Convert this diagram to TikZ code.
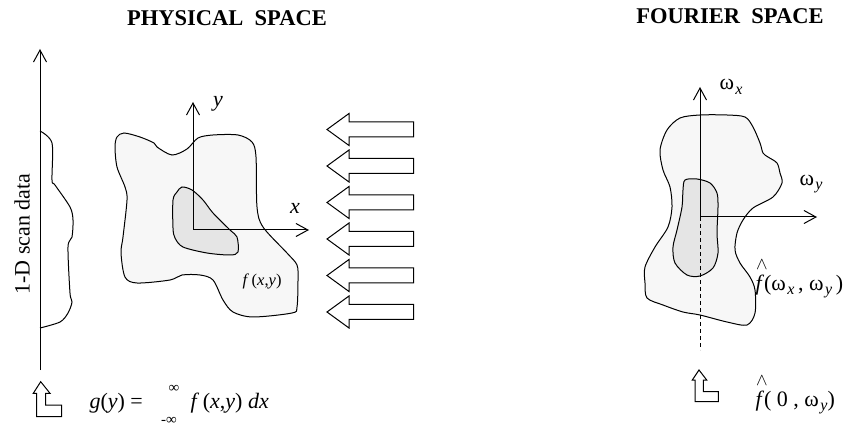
\documentclass[tikz,border=0pt]{standalone}
\usepackage{fontspec}
\setmainfont{Liberation Serif}
\usetikzlibrary{arrows.meta}
\definecolor{outerfill}{gray}{0.97}
\definecolor{innerfill}{gray}{0.9}
\newcommand\mysub[1]{\raisebox{-0.45ex}{\kern1.5pt\fontsize{16}{16}\selectfont\textit{#1}}}
\newcommand\myhatf{\leavevmode\rlap{\raisebox{0.95em}{\kern0.5pt\fontsize{19}{19}\selectfont$\wedge$}}\textit{f}}
\begin{document}
\begin{tikzpicture}[x=1pt,y=-1pt,line width=1pt,
  blobout/.style={draw,fill=outerfill},
  blobin/.style={draw,fill=innerfill},
  axisline/.style={-{Straight Barb[length=12pt,width=13pt]}},
  bigarrow/.style={draw,fill=white},
  turnicon/.style={draw,fill=white},
  titletext/.style={font=\fontsize{22.5}{24}\selectfont\bfseries},
  lbl/.style={font=\fontsize{22}{24}\selectfont},
  smalllbl/.style={font=\fontsize{16.5}{18}\selectfont},
  limlbl/.style={font=\fontsize{15}{15}\selectfont},
  inner sep=0pt]
\useasboundingbox (0,0) rectangle (843,427);

% ---------------- titles
\node[titletext] (t1) at (227,18) {PHYSICAL\ \ SPACE};
\node[titletext] (t2) at (730,16) {FOURIER\ \ SPACE};

% ---------------- physical space
% scan profile
\draw plot[smooth,tension=0.5] coordinates {(40,131) (52,143) (52,180) (55,185) (70,207) (73,220) (72,237) (68,247) (70,293) (72,302) (68,313) (60,322) (40,328)};
% scan axis
\coordinate (sb) at (40,370);
\coordinate (st) at (40,49);
\draw[axisline] (sb) -- (st);
\node[lbl,rotate=90] (scan) at (22,234) {1-D scan data};

% outer blob
\draw[blobout] plot[smooth cycle,tension=0.5] coordinates {(117,137) (124,133) (140,137) (154,143) (157,147) (172,155) (187,149) (198,138) (213,135) (238,135) (252,142) (256,157) (257,207) (263,227) (287,253) (297,265) (298,280) (297,307) (292,313) (253,317) (233,312) (223,300) (213,280) (200,275) (182,275) (170,280) (137,283) (125,277) (121,253) (123,237) (127,200) (125,187) (117,167) (115,147)};
% inner blob
\draw[blobin] plot[smooth cycle,tension=0.5] coordinates {(182,187) (192,190) (203,200) (213,213) (230,230) (237,237) (238,252) (230,255) (207,253) (183,247) (175,238) (173,228) (173,200) (177,192)};

\coordinate (po) at (193,230);
\coordinate (py) at (193,102);
\coordinate (px) at (309,230);
\draw[axisline] (po) -- (py);
\draw[axisline] (po) -- (px);
\node[lbl] (ylab) at (218,104) {\textit{y}};
\node[lbl] (xlab) at (295,208) {\textit{x}};
\node[smalllbl] (fxy) at (262,281) {\textit{f}\,(\textit{x},\textit{y})};

% big arrows
\foreach \c [count=\i] in {129.5,166,202.5,239,275.5,312}{
  \draw[bigarrow] (327,\c) -- (349,\c-16) -- (349,\c-7.5) -- (413.5,\c-7.5) -- (413.5,\c+7.5) -- (349,\c+7.5) -- (349,\c+16) -- cycle;
}

% turn icon + formula
\draw[turnicon] (40.7,381.7) -- (50,393.3) -- (45.7,393.3) -- (45.7,405) -- (61.7,405) -- (61.7,416.7) -- (36.7,416.7) -- (36.7,393.3) -- (33.3,393.3) -- cycle;
\node[lbl,anchor=west] (gy) at (89,403) {\textit{g}(\textit{y}) =};
\node[limlbl] (limup) at (174,389) {∞};
\node[limlbl] (limdn) at (169,421) {-∞};
\node[lbl,anchor=west] (fint) at (190,403) {\textit{f}\,(\textit{x},\textit{y}) \textit{dx}};

% ---------------- Fourier space
\draw[blobout] plot[smooth cycle,tension=0.5] coordinates {(667,130) (680,118) (700,115) (727,115) (745,117) (753,127) (760,143) (763,153) (768,157) (777,163) (780,173) (782,183) (773,197) (753,208) (743,220) (737,233) (735,250) (740,263) (750,277) (755,290) (755,313) (747,325) (727,322) (700,315) (683,312) (663,305) (647,298) (645,283) (645,267) (655,247) (668,227) (672,207) (670,187) (663,170) (660,150)};
\draw[blobin] plot[smooth cycle,tension=0.5] coordinates {(685,180) (697,179) (710,183) (717,193) (718,207) (717,233) (718,253) (713,268) (700,276) (687,275) (675,263) (673,247) (677,230) (682,207) (683,190)};

\coordinate (fo) at (700,217);
\coordinate (fx) at (700,87);
\coordinate (fy) at (817,217);
\coordinate (fd) at (700,350);
\draw[axisline] (fo) -- (fx);
\draw[axisline] (fo) -- (fy);
\draw[dash pattern=on 4pt off 3pt] (fo) -- (fd);
\node[lbl,anchor=west] (wxlab) at (719,87) {ω\mysub{x}};
\node[lbl,anchor=west] (wylab) at (799,184) {ω\mysub{y}};
\node[lbl,anchor=west] (fhat) at (755,279) {\myhatf(ω\mysub{x}\,, ω\mysub{y}\,)};

\draw[turnicon] (699,370) -- (706.7,380) -- (703.3,380) -- (703.3,391.7) -- (718.3,391.7) -- (718.3,401.7) -- (695,401.7) -- (695,380) -- (692.3,380) -- cycle;
\node[lbl,anchor=west] (fhat0) at (755,395) {\myhatf( 0 , ω\mysub{y})};
\end{tikzpicture}
\end{document}
